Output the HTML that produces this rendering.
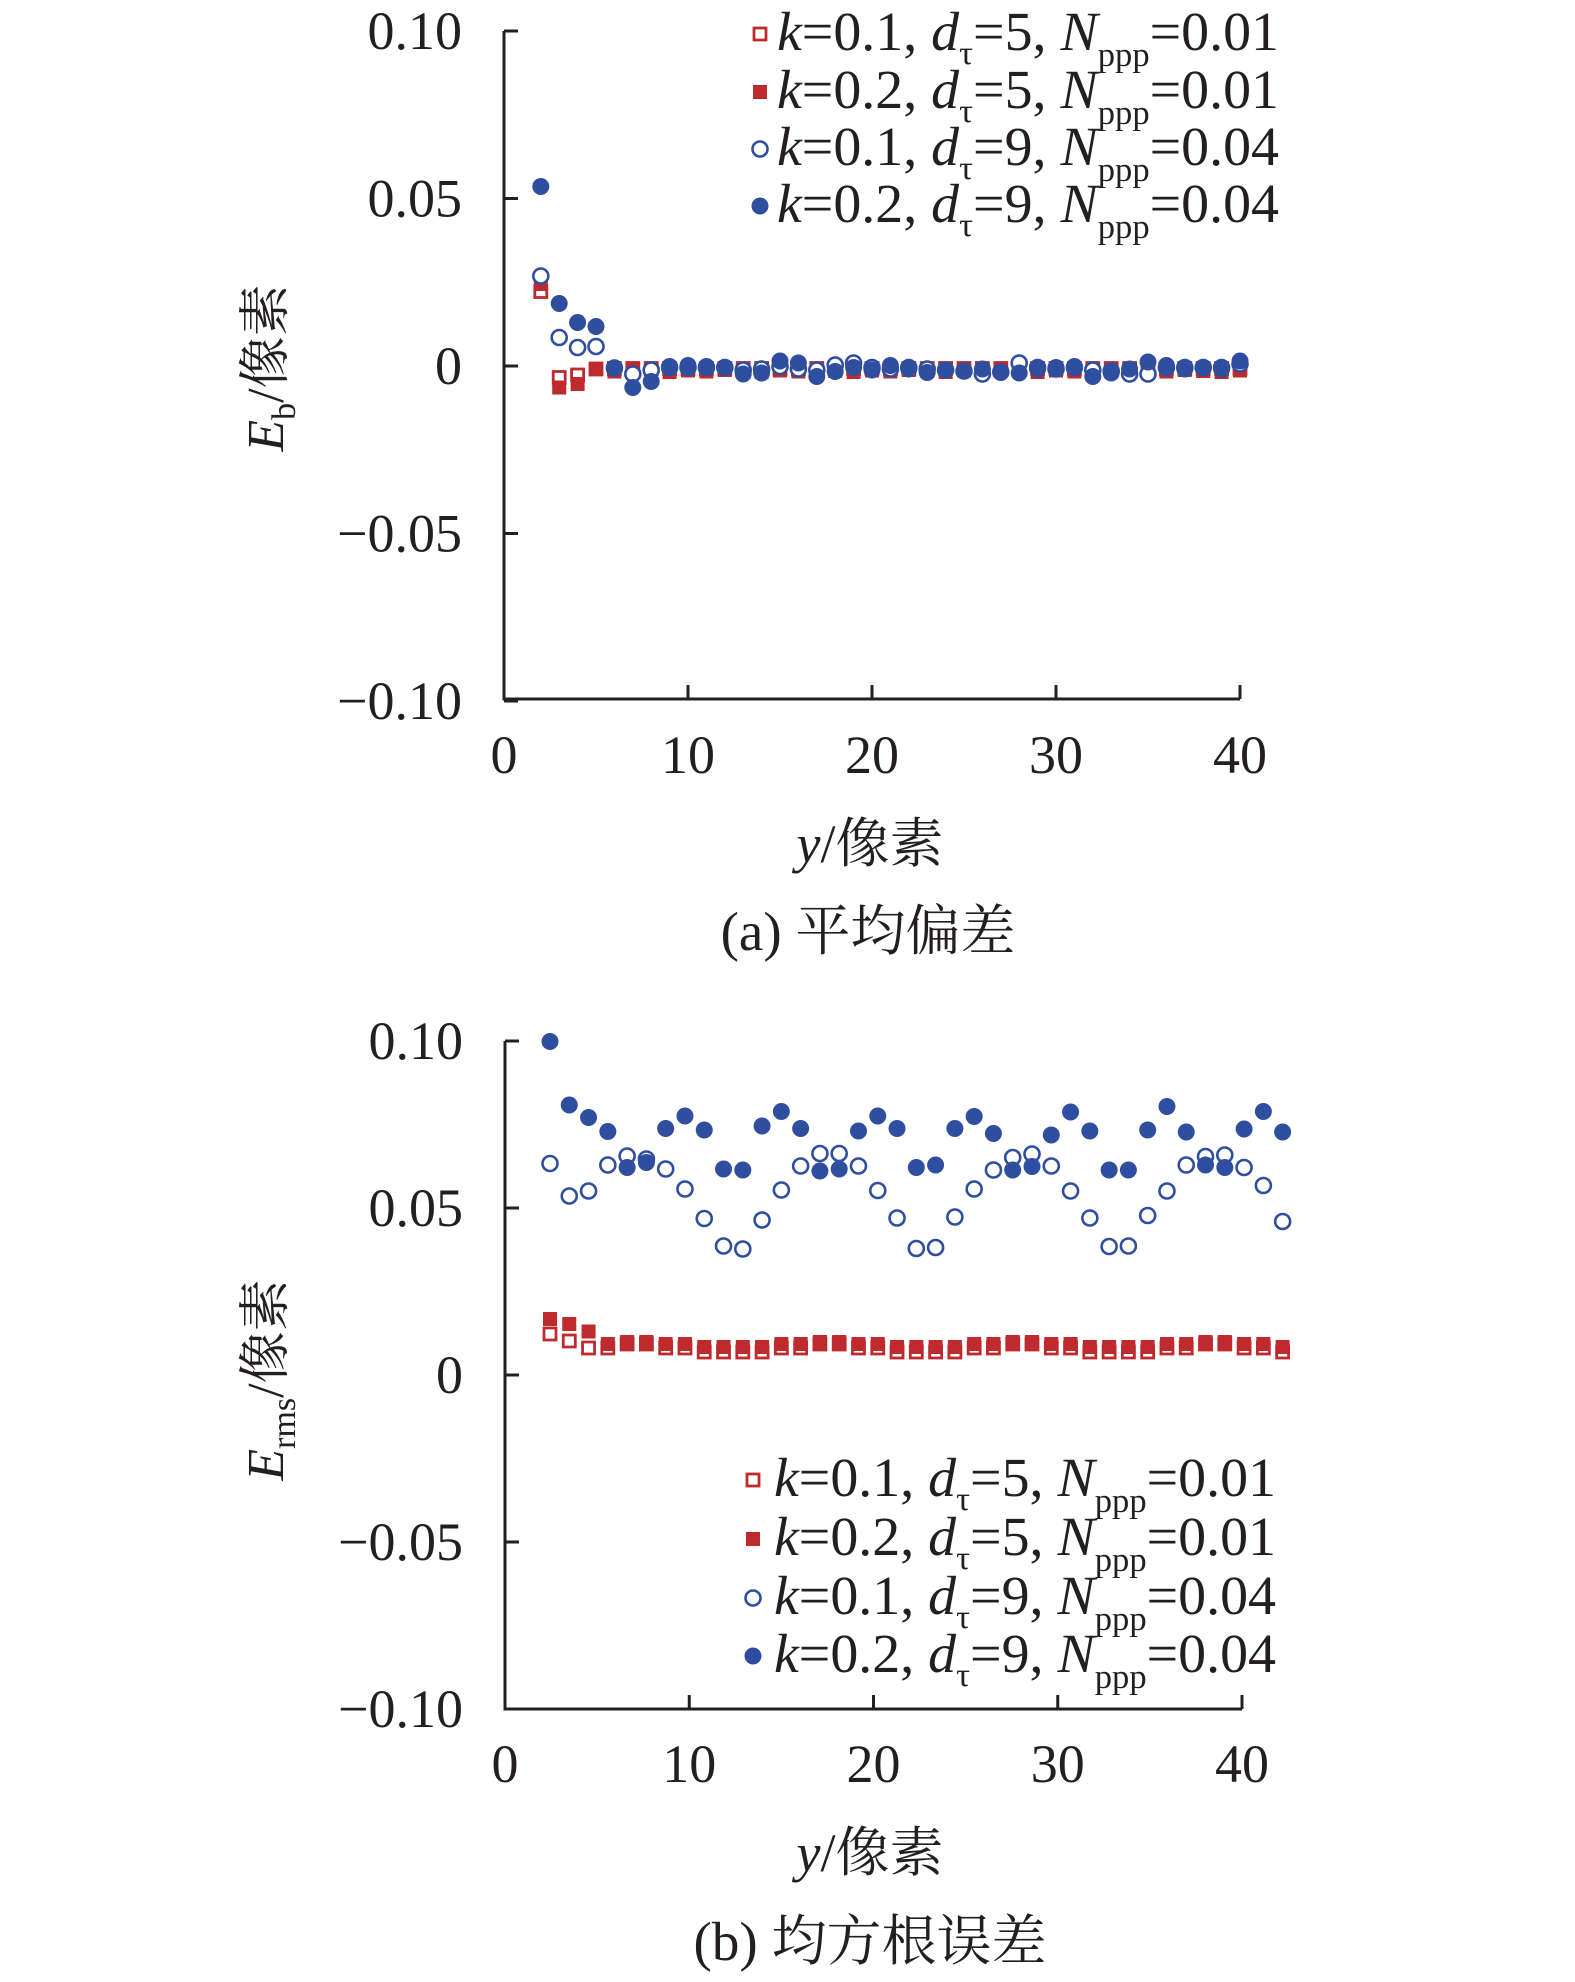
<!DOCTYPE html>
<html><head><meta charset="utf-8"><style>
html,body{margin:0;padding:0;background:#fff}
svg{display:block}
text{font-family:"Liberation Serif","Noto Serif CJK SC",serif;fill:#231f20}
.cj{font-family:"Noto Serif CJK SC","Liberation Serif",serif}
</style></head><body>
<svg id="s" width="1575" height="1982" viewBox="0 0 1575 1982" xmlns="http://www.w3.org/2000/svg"></svg>
<script>
const S=document.getElementById('s');let h='';
const R='#be2a2e',B='#2f4e9f';
function axes(x0,x40,y10,y0,ym10,offy){
 h+=`<path d="M${x0} ${y10}V${ym10}H${x40}" fill="none" stroke="#231f20" stroke-width="3"/>`;
 const st=(y0-y10)/2;
 const labs=['0.10','0.05','0','\u22120.05','\u22120.10'];
 for(let i=0;i<5;i++){const y=y10+i*st;
  h+=`<line x1="${x0}" x2="${x0+14}" y1="${y}" y2="${y}" stroke="#231f20" stroke-width="3"/>`;
  h+=`<text x="${x0-42}" y="${y+18}" font-size="54" text-anchor="end">${labs[i]}</text>`;}
 const sx=(x40-x0)/4;
 for(let i=0;i<5;i++){const x=x0+i*sx;
  h+=`<line x1="${x}" x2="${x}" y1="${ym10}" y2="${ym10-14}" stroke="#231f20" stroke-width="3"/>`;
  h+=`<text x="${x}" y="${773+offy}" font-size="54" text-anchor="middle">${i*10}</text>`;}
 h+=`<text x="870" y="${862+offy}" font-size="54" text-anchor="middle"><tspan font-style="italic">y</tspan>/<tspan class="cj">像素</tspan></text>`;
}
function mk(t,x,y){
 if(t==0)h+=`<rect x="${x-6}" y="${y-6}" width="12" height="12" fill="#fff" stroke="${R}" stroke-width="2.8"/>`;
 else if(t==1)h+=`<rect x="${x-7}" y="${y-7}" width="14" height="14" fill="${R}"/>`;
 else if(t==2)h+=`<circle cx="${x}" cy="${y}" r="7.5" fill="#fff" stroke="${B}" stroke-width="2.6"/>`;
 else h+=`<circle cx="${x}" cy="${y}" r="8.5" fill="${B}"/>`;
}
function legend(mx,tx,ys){
 const L=[['0.1','5','0.01'],['0.2','5','0.01'],['0.1','9','0.04'],['0.2','9','0.04']];
 for(let i=0;i<4;i++){const y=ys[i];mk(i,mx,y-16);
  h+=`<text x="${tx}" y="${y}" font-size="55" textLength="502" lengthAdjust="spacingAndGlyphs"><tspan font-style="italic">k</tspan>=${L[i][0]}, <tspan font-style="italic">d</tspan><tspan font-size="34" dy="14">τ</tspan><tspan dy="-14">=${L[i][1]}, </tspan><tspan font-style="italic">N</tspan><tspan font-size="34" dy="16">ppp</tspan><tspan dy="-16">=${L[i][2]}</tspan></text>`;}
}
function ylab(cx,cy,sub){
 h+=`<text transform="translate(${cx+18},${cy}) rotate(-90)" font-size="52" text-anchor="middle"><tspan font-style="italic">E</tspan><tspan font-size="34" dy="12">${sub}</tspan><tspan dy="-12">/</tspan><tspan class="cj">像素</tspan></text>`;
}
axes(504,1240,31,366,699,0);
ylab(265,368,'b');
{
 const bf=[373,607,645,653,736,775,763,733,731,733,735,748,746,722,726,753,743,735,740,731,738,745,740,742,738,745,746,738,735,733,753,746,738,724,731,738,736,738,722];
 const bo=[552,675,695,693,736,748,740,735,735,735,735,740,738,733,738,740,730,726,735,738,735,738,740,742,748,744,726,735,738,735,740,742,748,748,735,735,735,735,728];
 const rf=[568,775,768,738];const ro=[583,755,750,738];
 const X=d=>504+d*18.4;
 for(let i=0;i<39;i++)mk(0,X(i+2),(i<4?ro[i]:737)/2);
 for(let i=0;i<39;i++)mk(1,X(i+2),(i<4?rf[i]:(740+((i*7)%5)))/2);
 for(let i=0;i<39;i++)mk(2,X(i+2),bo[i]/2);
 for(let i=0;i<39;i++)mk(3,X(i+2),bf[i]/2);
}
legend(760,777,[50,108,165,222]);
h+=`<text x="868" y="950" font-size="55" text-anchor="middle">(a) <tspan class="cj">平均偏差</tspan></text>`;
axes(505,1242,1041,1375,1709,1009);
ylab(265,1380,'rms');
{
 const bf=[83,210,235,263,335,325,257,232,260,338,340,252,223,257,342,338,262,232,257,335,330,257,233,267,340,333,270,224,262,340,340,260,213,264,330,335,258,223,264];
 const bo=[327,392,382,330,312,318,338,378,437,492,498,440,380,332,307,307,332,381,436,497,495,434,378,340,315,308,332,382,436,493,492,431,382,330,313,310,335,371,443];
 const X=i=>550+i*19.28,Y=z=>1000+z/2;
 for(let i=0;i<39;i++){const v=i==0?668:i==1?682:(bo[i]>420?704:bo[i]<330?688:696);mk(0,X(i),Y(v));}
 for(let i=0;i<39;i++){const v=i==0?638:i==1?648:i==2?663:(bo[i]>420?694:bo[i]<330?684:688);mk(1,X(i),Y(v));}
 for(let i=0;i<39;i++)mk(2,X(i),Y(bo[i]));
 for(let i=0;i<39;i++)mk(3,X(i),Y(bf[i]));
}
legend(753,774,[1496,1555,1614,1672]);
h+=`<text x="870" y="1960" font-size="55" text-anchor="middle">(b) <tspan class="cj">均方根误差</tspan></text>`;
S.innerHTML=h;
</script>
</body></html>
